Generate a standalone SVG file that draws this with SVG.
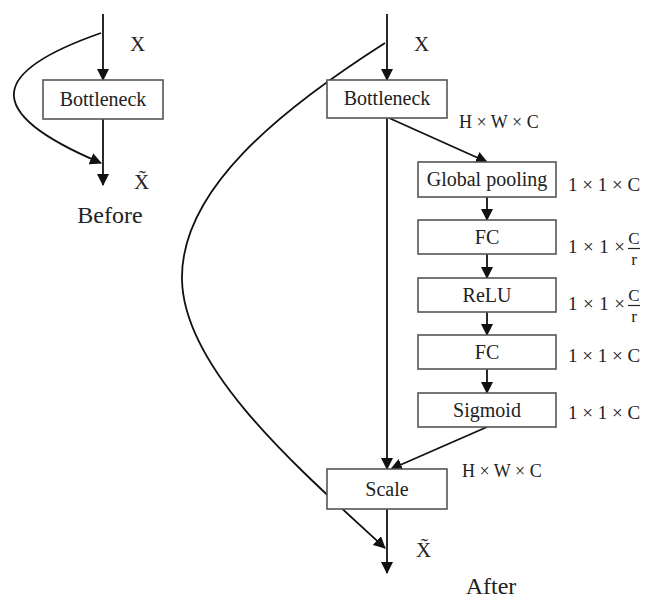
<svg xmlns="http://www.w3.org/2000/svg" width="648" height="600" viewBox="0 0 648 600">
<style>
.box{fill:#fff;stroke:#555;stroke-width:1.6}
.t{font-family:"Liberation Serif","Times New Roman",serif;font-size:20px;fill:#222;text-anchor:middle}
.lbl{font-family:"Liberation Serif","Times New Roman",serif;font-size:19px;fill:#222}
.big{font-family:"Liberation Serif","Times New Roman",serif;font-size:24px;fill:#222;text-anchor:middle}
.x{font-family:"Liberation Serif","Times New Roman",serif;font-size:21px;fill:#222}
.dim{font-family:"Liberation Serif","Times New Roman",serif;font-size:18px;fill:#222}
.fr{font-family:"Liberation Serif","Times New Roman",serif;font-size:17px;fill:#222;text-anchor:middle}
.ln{fill:none;stroke:#111;stroke-width:1.8}
</style>
<defs>
<marker id="ah" viewBox="0 0 12 12" refX="11" refY="6" markerWidth="12" markerHeight="12" markerUnits="userSpaceOnUse" orient="auto">
<path d="M0,0 L12,6 L0,12 Z" fill="#111"/>
</marker>
</defs>
<g id="connectors">
<line class="ln" x1="103" y1="14" x2="103" y2="80" marker-end="url(#ah)"/>
<line class="ln" x1="103" y1="119" x2="103" y2="185" marker-end="url(#ah)"/>
<path class="ln" d="M101,33 C-5,70 -25,110 101,163" marker-end="url(#ah)"/>
<line class="ln" x1="387" y1="14" x2="387" y2="80" marker-end="url(#ah)"/>
<line class="ln" x1="387" y1="118" x2="387" y2="469" marker-end="url(#ah)"/>
<line class="ln" x1="387" y1="509" x2="387" y2="573" marker-end="url(#ah)"/>
<path class="ln" d="M385,43 C280,110 180,190 182,280 C184,370 300,470 385,548" marker-end="url(#ah)"/>
<line class="ln" x1="389" y1="118" x2="487" y2="162" marker-end="url(#ah)"/>
<line class="ln" x1="487" y1="197" x2="487" y2="220" marker-end="url(#ah)"/>
<line class="ln" x1="487" y1="254" x2="487" y2="278" marker-end="url(#ah)"/>
<line class="ln" x1="487" y1="312" x2="487" y2="335" marker-end="url(#ah)"/>
<line class="ln" x1="487" y1="369" x2="487" y2="393" marker-end="url(#ah)"/>
<line class="ln" x1="487" y1="427" x2="391" y2="469" marker-end="url(#ah)"/>
</g>
<g id="before-bottleneck"><rect class="box" x="43" y="80" width="120" height="39"/><text class="t" x="103" y="106">Bottleneck</text></g>
<g id="after-bottleneck"><rect class="box" x="327" y="80" width="120" height="38"/><text class="t" x="387" y="105">Bottleneck</text></g>
<g id="global-pooling"><rect class="box" x="418" y="162" width="138" height="35"/><text class="t" x="487" y="186">Global pooling</text></g>
<g id="fc1"><rect class="box" x="418" y="220" width="138" height="34"/><text class="t" x="487" y="244">FC</text></g>
<g id="relu"><rect class="box" x="418" y="278" width="138" height="34"/><text class="t" x="487" y="302">ReLU</text></g>
<g id="fc2"><rect class="box" x="418" y="335" width="138" height="34"/><text class="t" x="487" y="359">FC</text></g>
<g id="sigmoid"><rect class="box" x="418" y="393" width="138" height="34"/><text class="t" x="487" y="417">Sigmoid</text></g>
<g id="scale"><rect class="box" x="327" y="469" width="120" height="40"/><text class="t" x="387" y="496">Scale</text></g>
<g id="labels">
<text class="x" x="130" y="51">X</text>
<text class="x" x="134" y="189">X̃</text>
<text class="big" x="110" y="223">Before</text>
<text class="x" x="414" y="51">X</text>
<text class="x" x="416" y="557">X̃</text>
<text class="big" x="491" y="594">After</text>
<text class="dim" x="459" y="128">H × W × C</text>
<text class="dim" x="462" y="477">H × W × C</text>
<text class="lbl" x="568" y="191">1 × 1 × C</text>
<text class="lbl" x="568" y="253" textLength="57">1 × 1 ×</text>
<text class="fr" x="634" y="244">C</text>
<line x1="628" y1="248.5" x2="640" y2="248.5" stroke="#222" stroke-width="1.2"/>
<text class="fr" x="634" y="265">r</text>
<text class="lbl" x="568" y="310" textLength="57">1 × 1 ×</text>
<text class="fr" x="634" y="301">C</text>
<line x1="628" y1="305.5" x2="640" y2="305.5" stroke="#222" stroke-width="1.2"/>
<text class="fr" x="634" y="322">r</text>
<text class="lbl" x="568" y="362">1 × 1 × C</text>
<text class="lbl" x="568" y="419">1 × 1 × C</text>
</g>
</svg>
